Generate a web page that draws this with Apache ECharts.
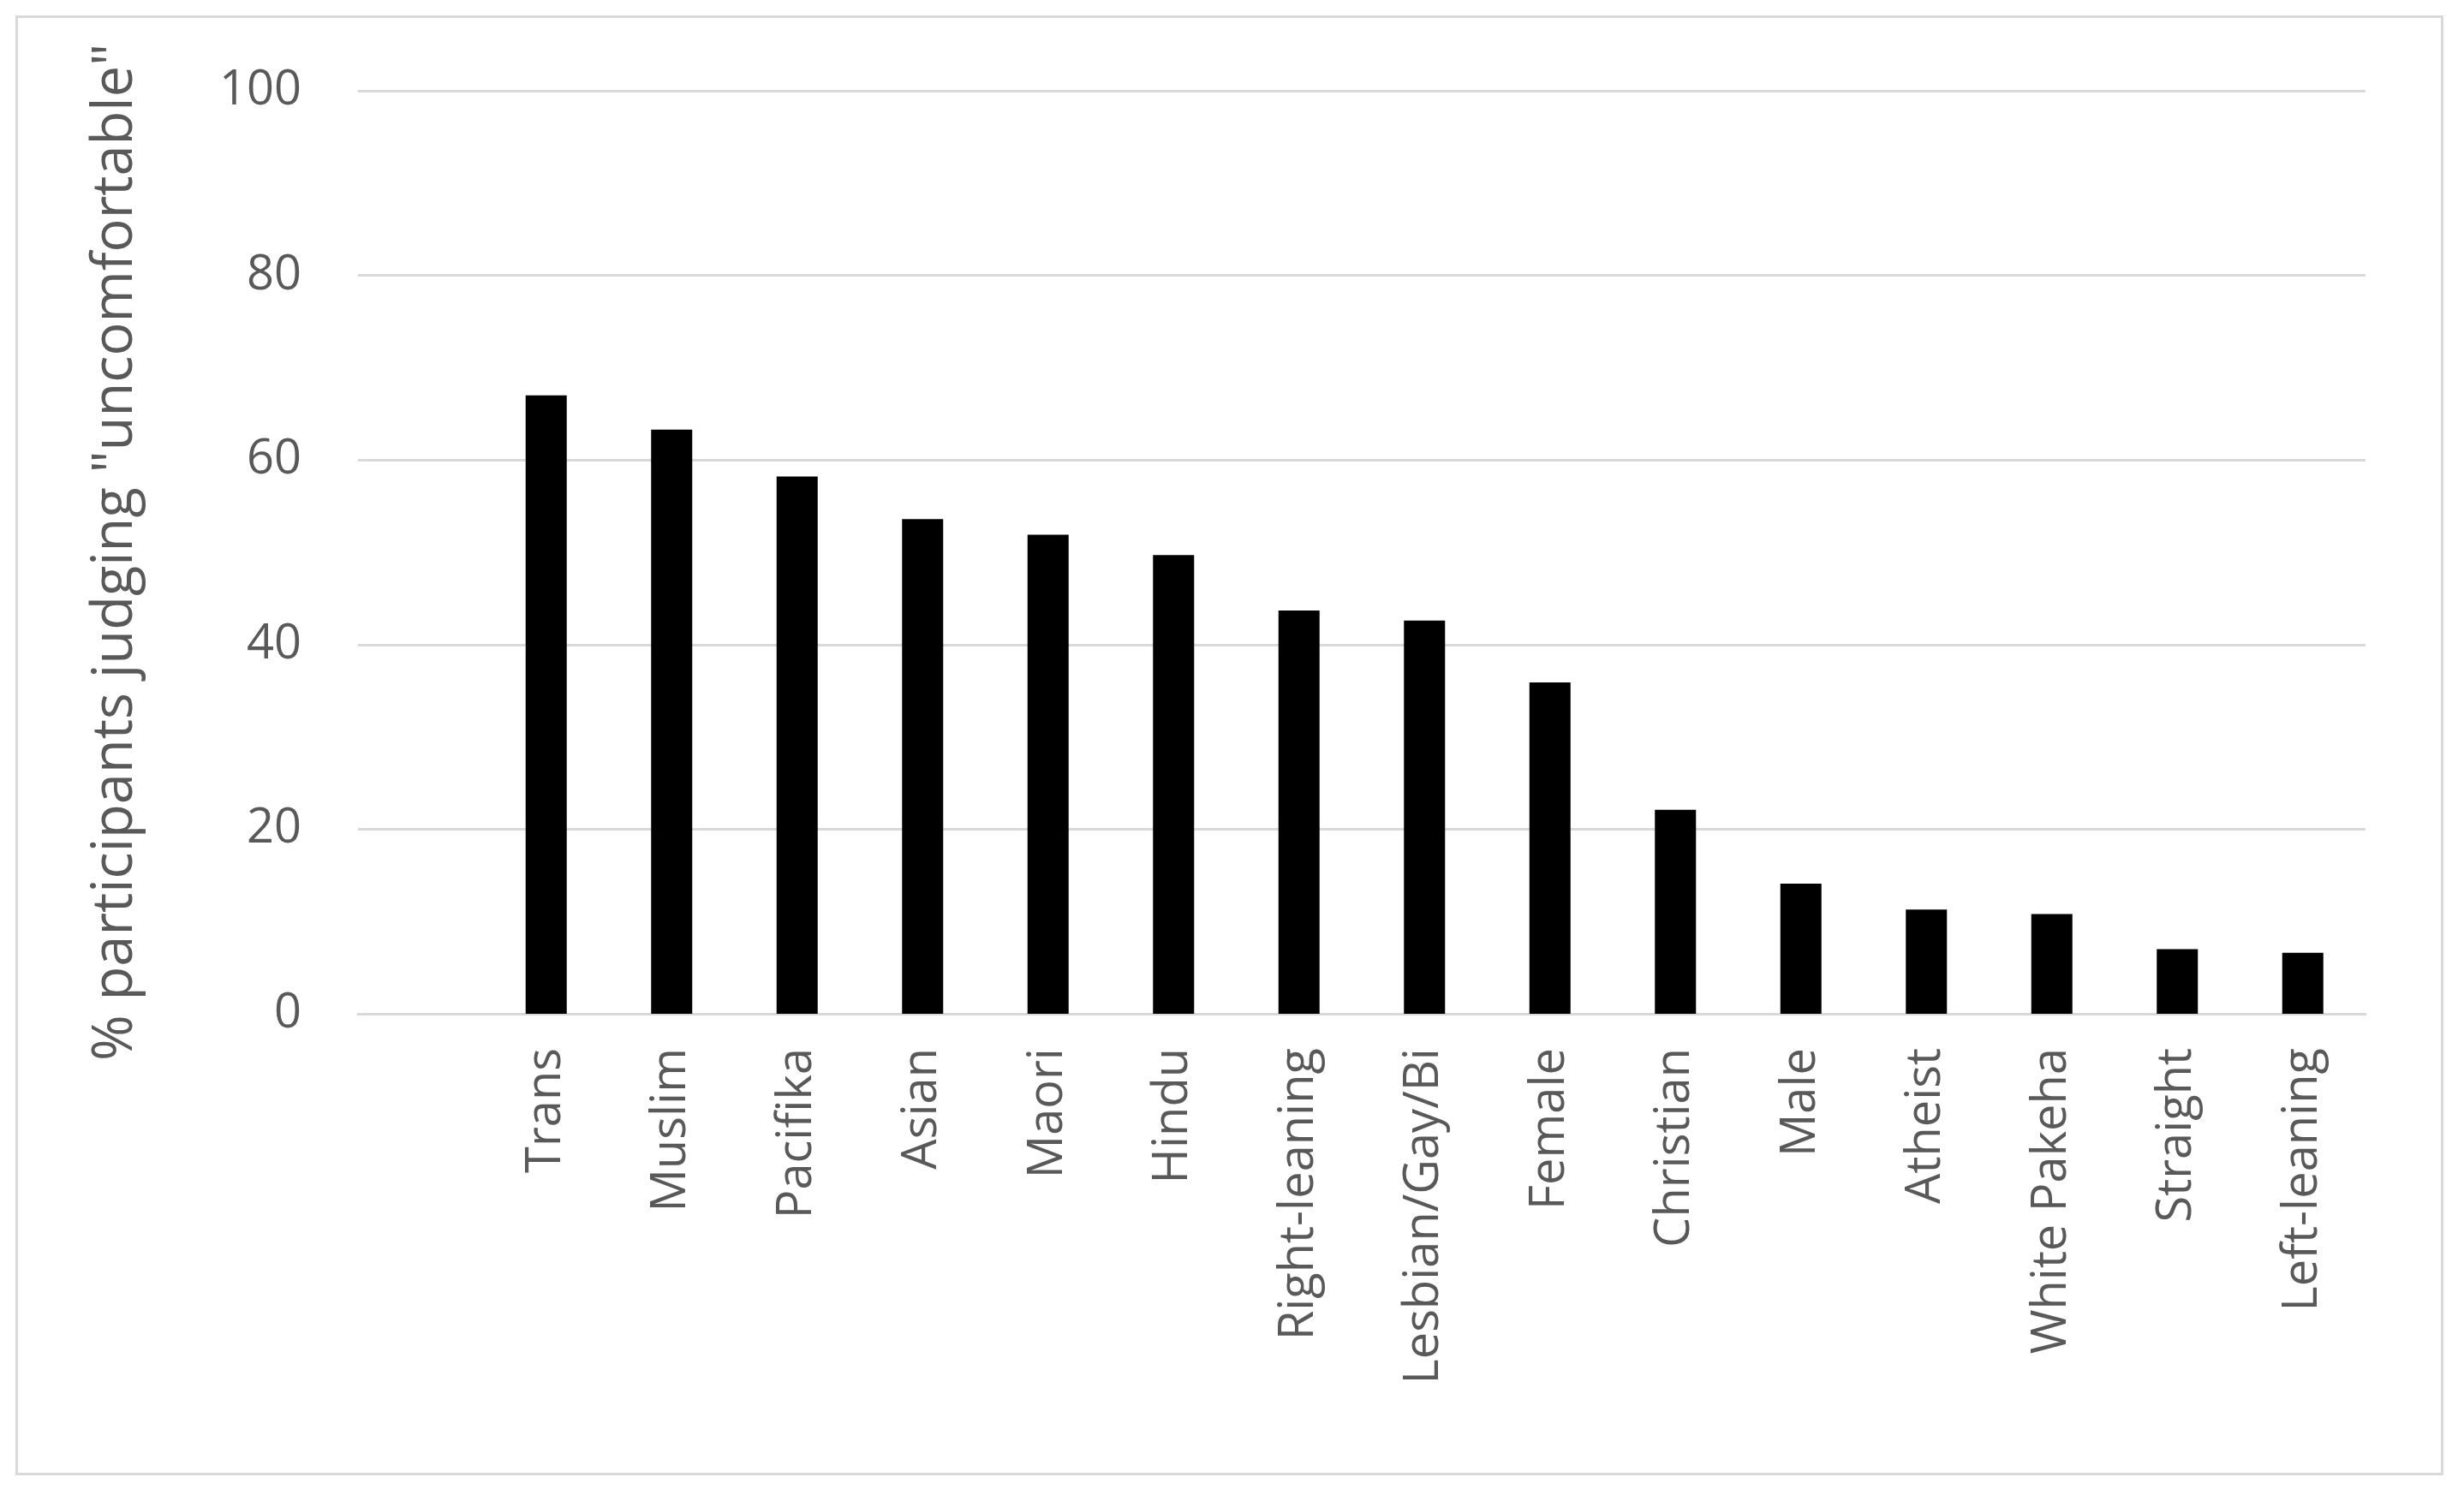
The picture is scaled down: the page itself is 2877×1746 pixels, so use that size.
<!DOCTYPE html>
<html>
<head>
<meta charset="utf-8">
<script src="https://cdn.jsdelivr.net/npm/echarts@6/dist/echarts.min.js"></script>
<style>
html, body { margin: 0; padding: 0; background: #fff; }
#frame { position: absolute; left: 18px; top: 18px; width: 2835px; height: 1705px; border: 3px solid #d9d9d9; box-sizing: border-box; }
#chart { position: absolute; left: 0; top: 0; width: 2877px; height: 1746px; }
</style>
</head>
<body>
<div id="frame"></div>
<div id="chart"></div>
<script>
// first slot is left empty in the original chart
var categories = ['', 'Trans', 'Muslim', 'Pacifika', 'Asian', 'Maori', 'Hindu', 'Right-leaning',
    'Lesbian/Gay/Bi', 'Female', 'Christian', 'Male', 'Atheist', 'White Pakeha', 'Straight', 'Left-leaning'];
var values = [null, 67.0, 63.3, 58.2, 53.6, 51.9, 49.7, 43.7, 42.6, 35.9, 22.1, 14.1, 11.3, 10.8, 7.0, 6.6];

var textColor = '#595959';
var font = 'Open Sans';

var chart = echarts.init(document.getElementById('chart'));
chart.setOption({
    backgroundColor: 'transparent',
    animation: false,
    grid: { left: 418, right: 115, top: 106, bottom: 562 },
    xAxis: {
        type: 'category',
        data: categories,
        axisLine: { lineStyle: { color: '#d9d9d9', width: 3 } },
        axisTick: { show: false },
        axisLabel: { rotate: 90, margin: 40, color: textColor, fontSize: 56, fontFamily: font, interval: 0 }
    },
    yAxis: {
        type: 'value',
        min: 0, max: 100, interval: 20,
        name: '% participants judging "uncomfortable"',
        nameLocation: 'middle',
        nameGap: 250,
        nameTextStyle: { color: textColor, fontSize: 65, fontFamily: font },
        axisLine: { show: false },
        axisTick: { show: false },
        axisLabel: { margin: 66, color: textColor, fontSize: 56, fontFamily: font },
        splitLine: { lineStyle: { color: '#d9d9d9', width: 3 } }
    },
    series: [{
        type: 'bar',
        data: values,
        barWidth: 48,
        itemStyle: { color: '#000' }
    }]
});
</script>
</body>
</html>
